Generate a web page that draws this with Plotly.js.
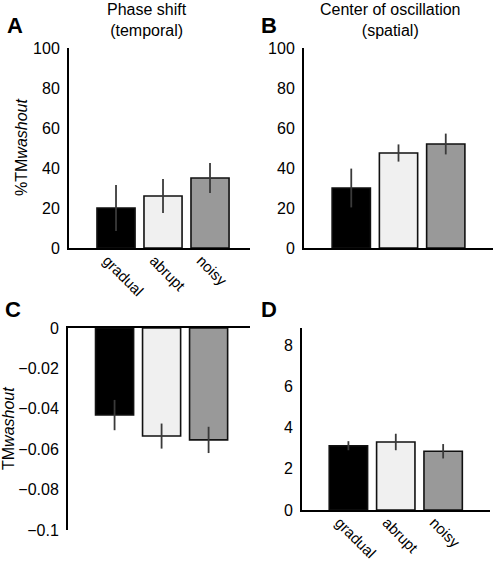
<!DOCTYPE html>
<html><head><meta charset="utf-8">
<script src="https://cdn.plot.ly/plotly-3.0.1.min.js"></script>
<style>html,body{margin:0;padding:0;background:#fff}#chart{width:494px;height:562px}</style>
</head><body><div id="chart"></div>
<script>
var categories = ["gradual", "abrupt", "noisy"];
var barColors = ["#000000", "#f0f0f0", "#999999"];
// Panel A: Phase shift (temporal), %TMwashout
var phaseValues = [20, 26, 35];
var phaseErrors = [11.5, 8.5, 7.5];
// Panel B: Center of oscillation (spatial), %TMwashout
var centerValues = [30, 47.5, 52];
var centerErrors = [9.7, 4.3, 5.2];
// Panel C: TMwashout (temporal)
var tmPhaseValues = [-0.0431, -0.0535, -0.0554];
var tmPhaseErrors = [0.0075, 0.0062, 0.0065];
// Panel D: TMwashout (spatial)
var tmCenterValues = [3.12, 3.3, 2.85];
var tmCenterErrors = [0.22, 0.4, 0.35];

var fam = "Liberation Sans, Arial, sans-serif";
var font = {family: fam, size: 16, color: "#000"};
var xFont = {family: fam, size: 15, color: "#000"};

function barTrace(vals, errs, xa, ya) {
  return {
    type: "bar", x: categories, y: vals, xaxis: xa, yaxis: ya,
    width: 0.81,
    marker: {color: barColors, line: {color: "#111", width: 1.6}},
    error_y: {type: "data", array: errs, visible: true, color: "#3a3a3a", thickness: 1.8, width: 0},
    showlegend: false, hoverinfo: "y"
  };
}

var data = [
  barTrace(phaseValues, phaseErrors, "x", "y"),
  barTrace(centerValues, centerErrors, "x2", "y2"),
  barTrace(tmPhaseValues, tmPhaseErrors, "x3", "y3"),
  barTrace(tmCenterValues, tmCenterErrors, "x4", "y4")
];

function xax(domain, range, showLabels, anchor, side) {
  return {
    domain: domain, anchor: anchor, type: "category", range: range,
    showline: true, linecolor: "#000", linewidth: 2, showgrid: false, zeroline: false,
    ticks: "", showticklabels: showLabels, tickangle: 45, tickfont: xFont, side: side || "bottom",
    ticklabelshift: -9, ticklabelstandoff: -4, automargin: false,
    fixedrange: true
  };
}
function yax(domain, range, dtick, anchor) {
  return {
    domain: domain, anchor: anchor, range: range, dtick: dtick, tick0: 0,
    showline: true, linecolor: "#000", linewidth: 2, showgrid: false, zeroline: false,
    ticks: "", ticklabelstandoff: 4, tickfont: font, automargin: false,
    fixedrange: true
  };
}

var letterFont = {family: fam, size: 22, color: "#000"};
var yTitleFont = {family: fam, size: 16, color: "#000"};
var headFont = {family: fam, size: 16, color: "#000"};

var layout = {
  width: 494, height: 562,
  margin: {l: 0, r: 0, t: 0, b: 0},
  paper_bgcolor: "#fff", plot_bgcolor: "rgba(0,0,0,0)",
  font: font,
  xaxis: xax([0.1397, 0.506], [-1, 2.85], true, "y"),
  yaxis: yax([0.5587, 0.9146], [0, 100], 20, "x"),
  xaxis2: xax([0.6154, 0.998], [-1, 3], false, "y2"),
  yaxis2: yax([0.5587, 0.9146], [0, 100], 20, "x2"),
  xaxis3: xax([0.1377, 0.506], [-0.99, 2.88], false, "y3", "top"),
  yaxis3: yax([0.0569, 0.4164], [-0.1, 0], 0.02, "x3"),
  xaxis4: xax([0.6113, 0.992], [-0.98, 2.99], true, "y4"),
  yaxis4: yax([0.0925, 0.4164], [0, 8.83], 2, "x4"),
  annotations: [
    {text: "Phase shift<br>(temporal)", xref: "paper", yref: "paper", x: 147/494, y: 1, yshift: 1, xanchor: "center", yanchor: "top", showarrow: false, font: headFont},
    {text: "Center of oscillation<br>(spatial)", xref: "paper", yref: "paper", x: 390/494, y: 1, yshift: 1, xanchor: "center", yanchor: "top", showarrow: false, font: headFont},
    {text: "%TM<i>washout</i>", xref: "paper", yref: "paper", x: 21/494, y: 1 - 148/562, xanchor: "center", yanchor: "middle", textangle: -90, showarrow: false, font: yTitleFont},
    {text: "TM<i>washout</i>", xref: "paper", yref: "paper", x: 8/494, y: 1 - 429/562, xanchor: "center", yanchor: "middle", textangle: -90, showarrow: false, font: yTitleFont},
    {text: "<b>A</b>", xref: "paper", yref: "paper", x: 5/494, y: 1 - 25/562, xanchor: "left", yanchor: "middle", showarrow: false, font: letterFont},
    {text: "<b>B</b>", xref: "paper", yref: "paper", x: 259/494, y: 1 - 25/562, xanchor: "left", yanchor: "middle", showarrow: false, font: letterFont},
    {text: "<b>C</b>", xref: "paper", yref: "paper", x: 3/494, y: 1 - 309/562, xanchor: "left", yanchor: "middle", showarrow: false, font: letterFont},
    {text: "<b>D</b>", xref: "paper", yref: "paper", x: 259/494, y: 1 - 309/562, xanchor: "left", yanchor: "middle", showarrow: false, font: letterFont}
  ]
};

Plotly.newPlot("chart", data, layout, {staticPlot: true, displayModeBar: false});
</script>
</body></html>
